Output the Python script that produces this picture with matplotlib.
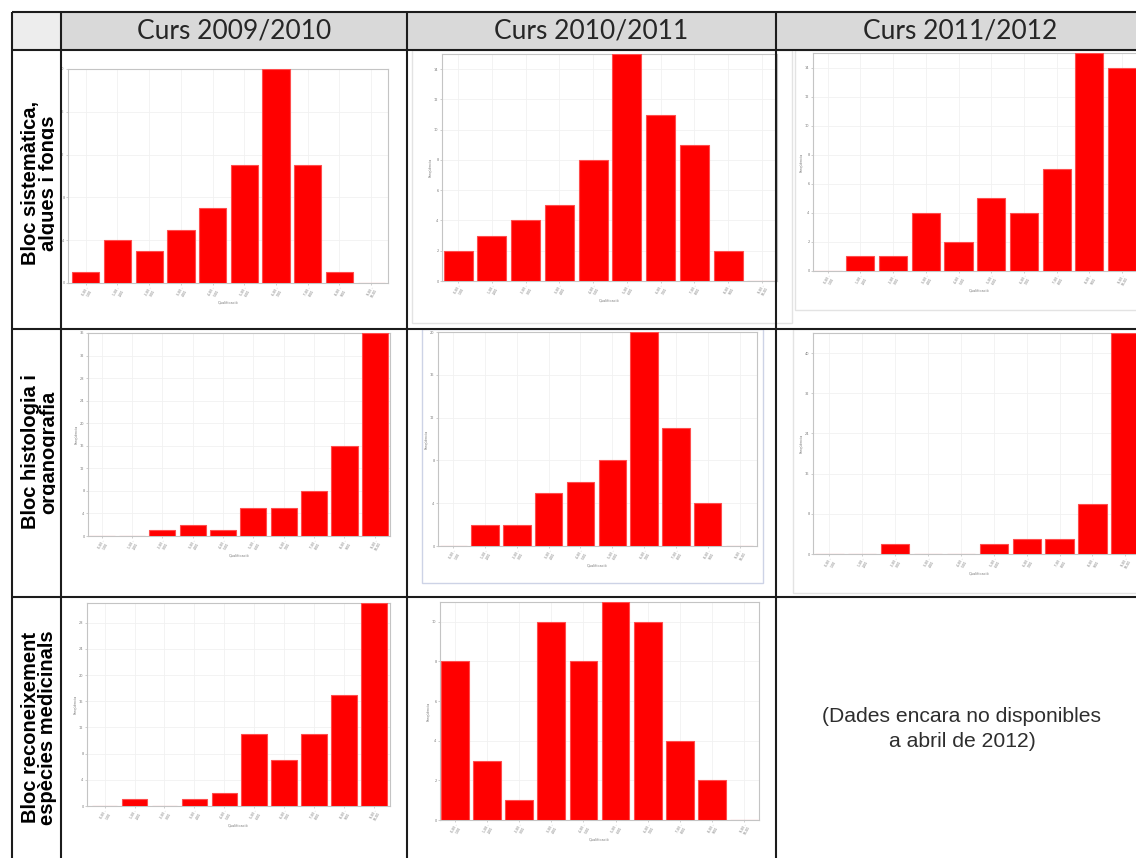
import matplotlib
matplotlib.use("Agg")
import matplotlib.pyplot as plt
import numpy as np
from matplotlib.patches import Rectangle

# ---------------- data ----------------
bins = ["0,00 -\n1,00", "1,00 -\n2,00", "2,00 -\n3,00", "3,00 -\n4,00", "4,00 -\n5,00",
        "5,00 -\n6,00", "6,00 -\n7,00", "7,00 -\n8,00", "8,00 -\n9,00", "9,00 -\n10,00"]
courses = ["Curs 2009/2010", "Curs 2010/2011", "Curs 2011/2012"]
blocks = ["Bloc sistemàtica,\nalgues i fongs",
          "Bloc histologia i\norganografia",
          "Bloc reconeixement\nespècies medicinals"]

sist_0910 = [1, 4, 3, 5, 7, 11, 20, 11, 1, 0]
sist_1011 = [2, 3, 4, 5, 8, 15, 11, 9, 2, 0]
sist_1112 = [0, 1, 1, 4, 2, 5, 4, 7, 15, 14]
hist_0910 = [0, 0, 1, 2, 1, 5, 5, 8, 16, 36]
hist_1011 = [0, 2, 2, 5, 6, 8, 20, 11, 4, 0]
hist_1112 = [0, 0, 2, 0, 0, 2, 3, 3, 10, 44]
med_0910 = [0, 1, 0, 1, 2, 11, 7, 11, 17, 31]
med_1011 = [8, 3, 1, 10, 8, 11, 10, 4, 2, 0]
missing_note = "(Dades encara no disponibles\na abril de 2012)"

# ---------------- figure ----------------
W, H = 1136, 858
fig = plt.figure(figsize=(W / 100, H / 100), dpi=100)
fig.patch.set_facecolor("white")


def px_axes(l, t, r, b, **kw):
    return fig.add_axes([l / W, 1 - b / H, (r - l) / W, (b - t) / H], **kw)


# background axes in pixel coordinates
bg = fig.add_axes([0, 0, 1, 1])
bg.set_xlim(0, W)
bg.set_ylim(H, 0)
bg.axis("off")
bg.set_zorder(-5)

# header fills
bg.add_patch(Rectangle((12, 12), 49, 38, facecolor="#ededed", edgecolor="none"))
bg.add_patch(Rectangle((61, 12), W - 61, 38, facecolor="#d9d9d9", edgecolor="none"))

# faint screenshot frames
frame_kw = dict(facecolor="none", edgecolor="#e3e3e3", linewidth=1.0)
bg.add_patch(Rectangle((412, 50), 380, 273, **frame_kw))
bg.add_patch(Rectangle((795, 50), 360, 260, **frame_kw))
bg.add_patch(Rectangle((422, 329), 341, 254, facecolor="none", edgecolor="#cdd3e6", linewidth=1.0))
bg.add_patch(Rectangle((793, 329), 360, 264, **frame_kw))

# ---------------- histograms ----------------
panels = [
    # values, (l, t, r, b), xlim, ylim top, ytick step, show ylabel
    (sist_0910, (68, 69, 388, 283), (-0.56, 9.53), 20, 4, False),
    (sist_1011, (442, 54, 777, 281), (-0.475, 9.45), 15, 2, True),
    (sist_1112, (813, 53, 1145, 271), (-0.45, 9.7), 15, 2, True),
    (hist_0910, (88, 333, 390, 536), (-0.45, 9.5), 36, 4, True),
    (hist_1011, (438, 332, 757, 546), (-0.48, 9.55), 20, 4, True),
    (hist_1112, (813, 333, 1145, 554), (-0.5, 9.6), 44, 8, True),
    (med_0910, (87, 603, 390, 806), (-0.585, 9.525), 31, 4, True),
    (med_1011, (440, 602, 759, 820), (-0.46, 9.46), 11, 2, True),
]

x = np.arange(len(bins))
for vals, (l, t, r, b), xl, ytop, step, show_yl in panels:
    ax = px_axes(l, t, r, b)
    ax.set_facecolor("white")
    ax.set_axisbelow(True)
    ax.bar(x, vals, width=0.86, color="#ff0000", edgecolor="#ff4d4d",
           linewidth=0.8, zorder=3)
    ax.set_xlim(*xl)
    ax.set_ylim(0, ytop)
    yt = np.arange(0, ytop + 0.01, step)
    ax.set_yticks(yt)
    ax.set_yticklabels([str(int(v)) for v in yt], fontsize=2.5, color="#777777")
    ax.set_xticks(x)
    ax.set_xticklabels(bins, fontsize=2.3, rotation=60, color="#777777",
                       ha="right", rotation_mode="anchor")
    ax.tick_params(length=1.5, width=0.4, color="#aaaaaa", pad=1)
    ax.grid(True, color="#f1f1f1", linewidth=0.6)
    for s in ax.spines.values():
        s.set_color("#c4c4c4")
        s.set_linewidth(0.8)
    ax.set_xlabel("Qualificació", fontsize=2.5, color="#777777", labelpad=1)
    if show_yl:
        ax.set_ylabel("Freqüència", fontsize=2.5, color="#777777", labelpad=1)

# ---------------- overlay: table lines and texts ----------------
ov = fig.add_axes([0, 0, 1, 1])
ov.set_xlim(0, W)
ov.set_ylim(H, 0)
ov.axis("off")
ov.patch.set_alpha(0)
ov.set_zorder(10)

lc = "#1c1c1c"
lw = 1.5
for yy in (12, 50, 329, 597):
    ov.plot([12, W], [yy, yy], color=lc, linewidth=lw, solid_capstyle="butt")
for xx in (12, 61, 407, 776):
    ov.plot([xx, xx], [12, H], color=lc, linewidth=lw, solid_capstyle="butt")

# header texts
for cx, txt in zip((234, 591, 960), courses):
    ov.text(cx, 31, txt, ha="center", va="center", fontsize=19,
            family=["Lato", "DejaVu Sans"], color="#262626")

# missing data note
ov.text(962, 729, missing_note, ha="center", va="center", fontsize=15.2,
        family=["Liberation Sans", "DejaVu Sans"], color="#2e2e2e", linespacing=1.35)

# row labels (clipped like the original cells)
row_label_geom = [
    # (top, bottom, clip_right, center_x, center_y)
    (51, 328, 54, 39.5, 183),
    (330, 596, 55, 39.5, 452),
    (598, 858, 58, 39.0, 728),
]
for (t, b, cr, cx, cy), lab in zip(row_label_geom, blocks):
    la = px_axes(13, t, cr, b)
    la.set_xlim(13, cr)
    la.set_ylim(b, t)
    la.axis("off")
    la.patch.set_alpha(0)
    la.set_zorder(11)
    la.text(cx, cy, lab, rotation=90, ha="center", va="center", fontsize=14.5,
            fontweight="bold", family=["Liberation Sans", "DejaVu Sans"],
            color="#000000", linespacing=0.92, clip_on=True)

fig.savefig("out.png", dpi=100, facecolor="white")
